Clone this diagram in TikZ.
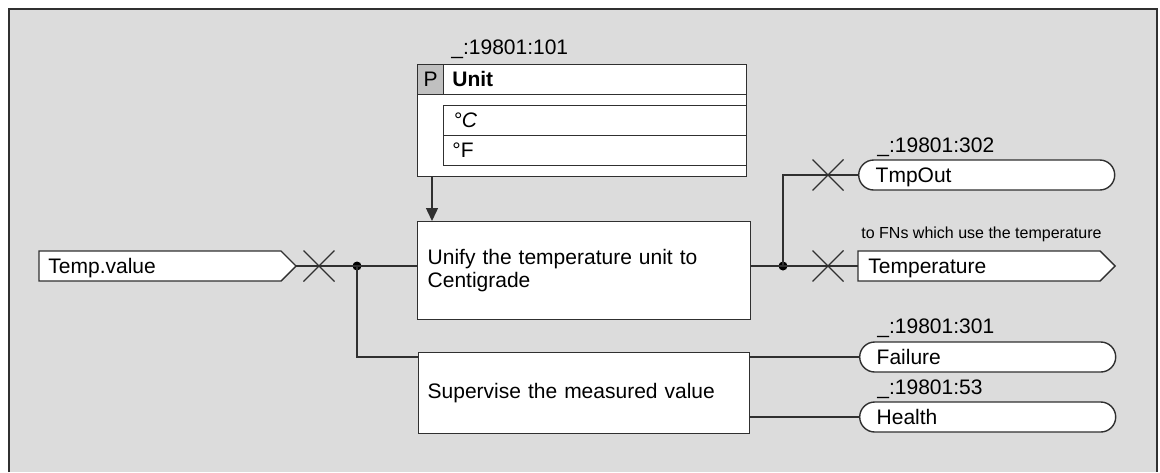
\documentclass[tikz,border=0pt]{standalone}
\usepackage{fontspec}
\setmainfont{Liberation Sans}
\usetikzlibrary{arrows.meta,calc}
\definecolor{bg}{HTML}{DCDCDC}
\definecolor{ln}{HTML}{303030}
\definecolor{pcell}{HTML}{C0C0C0}
\begin{document}
\begin{tikzpicture}[x=0.5pt,y=-0.5pt,
  every node/.style={font=\fontsize{10.5pt}{11.8pt}\selectfont, text=black},
  box/.style={draw=ln, fill=white, line width=0.7pt, inner sep=0pt},
  wire/.style={draw=ln, line width=0.7pt},
  lbl/.style={anchor=west, inner sep=0pt, text height=7.5pt, text depth=0pt},
  small/.style={lbl, font=\fontsize{8pt}{9.6pt}\selectfont, text height=5.7pt},
  port/.style={box, rounded corners=7.5pt, minimum width=128pt, minimum height=15pt,
    anchor=west, text width=111pt, align=left, text height=7.5pt, text depth=0pt},
  junction/.style={circle, fill=black, inner sep=0pt, minimum size=4.5pt},
  tip/.style={-{Triangle[width=6pt,length=6.5pt]}}]

\fill[white] (0,0) rectangle (1160,472);
\useasboundingbox (0,0) rectangle (1160,472);
\fill[bg] (9,9) rectangle (1157,472);
\draw[draw=ln, line width=0.9pt] (9,472) -- (9,9) -- (1157,9) -- (1157,472);

% parameter block
\node[box, anchor=north west, minimum width=164.5pt, minimum height=56pt] (unit) at (417,64) {};
\node[box, anchor=north west, minimum width=164.5pt, minimum height=15pt] (unithead) at (417,64) {};
\node[box, fill=pcell, anchor=north west, minimum width=13pt, minimum height=15pt] (pcell) at (417,64) {P};
\node[lbl] (unitname) at (452,79) {\bfseries Unit};
\node[box, anchor=north west, minimum width=151.5pt, minimum height=15pt] (rowc) at (443,105) {};
\node[box, anchor=north west, minimum width=151.5pt, minimum height=15pt] (rowf) at (443,135) {};
\node[lbl] (valc) at (453,120) {\itshape °C};
\node[lbl] (valf) at (452,150) {°F};
\node[lbl] (unitid) at (451,47) {\_:19801:101};

% function blocks
\node[box, anchor=north west, minimum width=166.5pt, minimum height=49pt, text width=156.5pt, align=left] (unify) at (417,221) {Unify the temperature unit to\\Centigrade};
\node[box, anchor=north west, minimum width=165.5pt, minimum height=40.5pt, text width=156.5pt, align=left] (sup) at (418,352) {Supervise the measured value};

\coordinate (ua) at ($(unit.south west)+(15,0)$);
\draw[wire, tip, ln] (ua) -- (ua |- unify.north);

% input
\draw[wire, fill=white] (39,251) -- (281,251) -- (296,266) -- (281,281) -- (39,281) -- cycle;
\node[lbl] (tv) at (48,266) {Temp.value};
\coordinate (tvtip) at (296,266);

% outputs
\draw[wire, fill=white] (858,251) -- (1100,251) -- (1115,266) -- (1100,281) -- (858,281) -- cycle;
\coordinate (tempin) at (858,266);
\node[lbl] (temp) at (868,266) {Temperature};
\node[small] (tempnote) at (861,233) {to FNs which use the temperature};

\node[port] (tmpout) at (858,175) {TmpOut};
\node[port] (failure) at (859,357) {Failure};
\node[port] (health) at (859,417) {Health};
\node[lbl] (idtmp) at (877,145) {\_:19801:302};
\node[lbl] (idfail) at (877,326) {\_:19801:301};
\node[lbl] (idhealth) at (877,387) {\_:19801:53};

% junctions
\node[junction] (j1) at (357,266) {};
\node[junction] (j2) at (783,266) {};

% wires
\draw[wire] (tvtip) -- (tvtip -| unify.west);
\draw[wire] (j1.center) |- ($(sup.north west)+(0,5)$);
\draw[wire] (unify.east |- j2.center) -- (tempin);
\draw[wire] (j2.center) |- (tmpout.west);
\draw[wire] (sup.east |- failure.west) -- (failure.west);
\draw[wire] (sup.east |- health.west) -- (health.west);

% crosses
\coordinate (x1) at (319,266);
\coordinate (x2) at (828,175);
\coordinate (x3) at (828,266);
\foreach \c in {x1,x2,x3}{
  \draw[wire, line width=0.6pt] ($(\c)+(-15.5,-15.5)$) -- ($(\c)+(15.5,15.5)$)
    ($(\c)+(-15.5,15.5)$) -- ($(\c)+(15.5,-15.5)$);
}
\end{tikzpicture}
\end{document}
